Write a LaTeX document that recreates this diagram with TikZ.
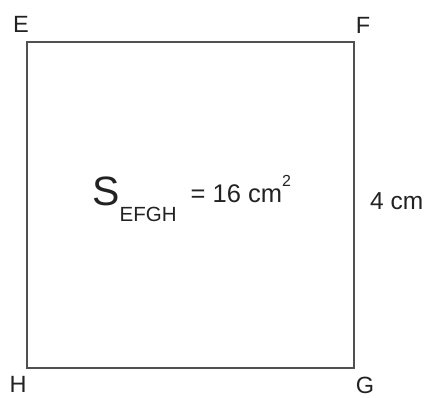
\documentclass[tikz,border=0pt]{standalone}
\usepackage{fontspec}
\setmainfont{Liberation Sans}
\definecolor{edge}{HTML}{505050}
\definecolor{ink}{HTML}{222222}
\begin{document}
\begin{tikzpicture}[x=1pt,y=-1pt,
  lbl/.style={inner sep=0pt,text=ink,font=\fontsize{23.5}{25}\selectfont},
  side/.style={draw=edge,line width=2pt,line join=miter}]
\useasboundingbox (0,0) rectangle (429,397);
\coordinate (E) at (27,42);
\coordinate (F) at (354,42);
\coordinate (G) at (354,368);
\coordinate (H) at (27,368);
\draw[side] (E) -- (F) -- (G) -- (H) -- cycle;
\node[lbl] (lE) at (21,24) {E};
\node[lbl] (lF) at (363,25) {F};
\node[lbl] (lH) at (18,384.5) {H};
\node[lbl] (lG) at (365,385) {G};
\node[lbl,anchor=west,font=\fontsize{24.5}{26}\selectfont] (len) at (370,201) {4 cm};
\node[lbl,anchor=base west,font=\fontsize{41}{43}\selectfont] (S) at (92.5,205) {S};
\node[lbl,anchor=base west,font=\fontsize{20.5}{22}\selectfont] (sub) at (119.5,221) {EFGH};
\node[lbl,anchor=base west,font=\fontsize{25.5}{27}\selectfont] (eq) at (190.5,202) {= 16 cm\raisebox{16pt}{\fontsize{16}{16}\selectfont 2}};
\end{tikzpicture}
\end{document}
